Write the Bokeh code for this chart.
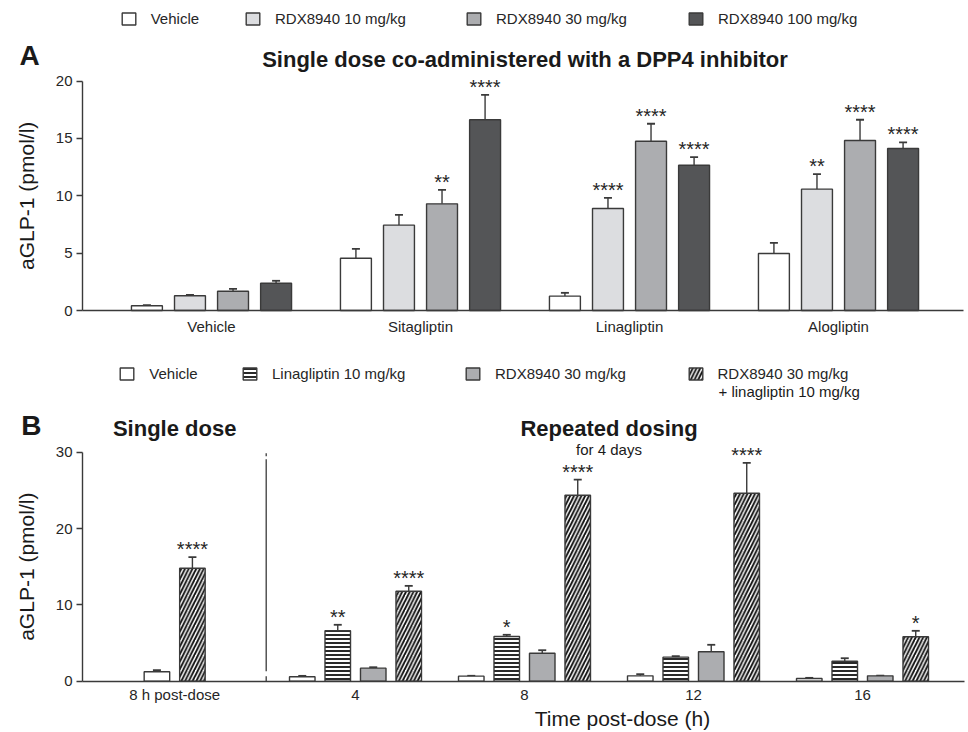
import math
from bokeh.plotting import figure
from bokeh.models import (ColumnDataSource, FixedTicker, CustomJSTickFormatter, Whisker,
                          TeeHead, Label, Legend, LegendItem, Range1d, LinearAxis)
from bokeh.layouts import column
from bokeh.embed import file_html
from bokeh.resources import INLINE
from bokeh.core.properties import value

# ---------------- data: panel A ----------------
A_groups = ["Vehicle", "Sitagliptin", "Linagliptin", "Alogliptin"]
A_series = ["Vehicle", "RDX8940 10 mg/kg", "RDX8940 30 mg/kg", "RDX8940 100 mg/kg"]
A_vehicle = [0.41, 4.56, 1.25, 4.97]
A_vehicle_sem = [0.05, 0.82, 0.29, 0.93]
A_rdx10 = [1.28, 7.44, 8.89, 10.58]
A_rdx10_sem = [0.09, 0.90, 0.93, 1.31]
A_rdx30 = [1.68, 9.30, 14.76, 14.82]
A_rdx30_sem = [0.21, 1.22, 1.52, 1.81]
A_rdx100 = [2.38, 16.63, 12.67, 14.12]
A_rdx100_sem = [0.21, 2.17, 0.70, 0.53]
A_vehicle_sig = ["", "", "", ""]
A_rdx10_sig = ["", "", "****", "**"]
A_rdx30_sig = ["", "**", "****", "****"]
A_rdx100_sig = ["", "****", "****", "****"]
A_yticks = [0, 5, 10, 15, 20]

# ---------------- data: panel B ----------------
B_groups = ["8 h post-dose", "4", "8", "12", "16"]
B_series = ["Vehicle", "Linagliptin 10 mg/kg", "RDX8940 30 mg/kg",
            "RDX8940 30 mg/kg + linagliptin 10 mg/kg"]
B_vehicle = [1.23, 0.58, 0.66, 0.70, 0.35]
B_vehicle_sem = [0.21, 0.12, 0.05, 0.22, 0.09]
B_lina = [None, 6.60, 5.86, 3.15, 2.62]
B_lina_sem = [None, 0.79, 0.22, 0.13, 0.39]
B_rdx = [None, 1.71, 3.67, 3.85, 0.70]
B_rdx_sem = [None, 0.12, 0.39, 0.92, 0.03]
B_combo = [14.80, 11.79, 24.37, 24.63, 5.82]
B_combo_sem = [1.45, 0.70, 2.05, 3.97, 0.78]
B_vehicle_sig = ["", "", "", "", ""]
B_lina_sig = ["", "**", "*", "", ""]
B_rdx_sig = ["", "", "", "", ""]
B_combo_sig = ["****", "****", "****", "****", "*"]
B_yticks = [0, 10, 20, 30]

# ---------------- layout / style constants ----------------
FONT = "Liberation Sans"
INK = "#262626"
EDGE = "#3a3a3a"
A_COLORS = ["#ffffff", "#dcdde0", "#acadb0", "#545557"]
GROUP_X_A = [0, 1, 2, 3]
GROUP_X_B = [-0.07, 1, 2, 3, 4]
A_PITCH, A_WIDTH = 0.206, 0.148
B_PITCH, B_WIDTH = 0.21, 0.151
W = 968


def make_fig(height, xr, yr, yaxis_x, xaxis_end, yticks, xticks, xlabels, xstand):
    p = figure(width=W, height=height, output_backend="svg", toolbar_location=None,
               x_range=Range1d(*xr), y_range=Range1d(*yr),
               x_axis_location=None, y_axis_location=None,
               min_border=0, min_border_left=0, min_border_right=0,
               min_border_top=0, min_border_bottom=0)
    p.xgrid.visible = False
    p.ygrid.visible = False
    p.outline_line_color = None
    p.background_fill_color = None
    p.border_fill_color = None

    ya = LinearAxis(fixed_location=yaxis_x, ticker=FixedTicker(ticks=yticks),
                    bounds=(yticks[0], yticks[-1]))
    xa = LinearAxis(fixed_location=0, ticker=FixedTicker(ticks=xticks),
                    bounds=(yaxis_x, xaxis_end),
                    formatter=CustomJSTickFormatter(args=dict(labels=xlabels),
                                                    code="return labels[index];"))
    for ax in (xa, ya):
        ax.axis_line_color = EDGE
        ax.axis_line_width = 1.4
        ax.major_label_text_font = FONT
        ax.major_label_text_font_size = "15px"
        ax.major_label_text_color = INK
        ax.minor_tick_line_color = None
    xa.major_tick_line_color = None
    xa.major_tick_out = 0
    xa.major_tick_in = 0
    xa.major_label_standoff = xstand
    ya.major_tick_out = 6
    ya.major_tick_in = 0
    ya.major_tick_line_color = EDGE
    ya.major_tick_line_width = 1.3
    ya.major_label_standoff = 4
    p.add_layout(ya, "left")
    p.add_layout(xa, "below")
    return p


def add_series(p, gx, vals, sems, sigs, k, present_fn, pitch, width, **fill):
    xs, tops, ups, stars = [], [], [], []
    for g, (v, s, st) in enumerate(zip(vals, sems, sigs)):
        if v is None:
            continue
        present = present_fn(g)
        n = len(present)
        j = present.index(k)
        xs.append(gx[g] + (j - (n - 1) / 2) * pitch)
        tops.append(v)
        ups.append(v + s)
        stars.append(st)
    src = ColumnDataSource(dict(x=xs, top=tops, up=ups, star=stars))
    r = p.vbar(x="x", top="top", bottom=0, width=width, source=src,
               line_color=EDGE, line_width=1.4, **fill)
    w = Whisker(source=src, base="x", lower="top", upper="up", dimension="height",
                line_color=EDGE, line_width=1.4, lower_head=None,
                upper_head=TeeHead(size=8, line_color=EDGE, line_width=1.8))
    p.add_layout(w)
    p.text(x="x", y="up", text="star", source=src, text_align="center",
           text_baseline="alphabetic", y_offset=-8, text_font=value(FONT),
           text_font_size="20px", text_color=INK)
    return r


def add_legend(p, r, label, x, y):
    lg = Legend(items=[LegendItem(label=label, renderers=[r])], location=(x, y),
                orientation="horizontal", padding=0, margin=0, spacing=0,
                border_line_color=None, background_fill_alpha=0,
                glyph_width=17, glyph_height=15, label_standoff=14, label_height=15,
                label_text_font=FONT, label_text_font_size="15px", label_text_color=INK)
    p.add_layout(lg, "center")


def add_text(p, x, y, txt, size, bold=False, align="center", angle=0.0,
             baseline="alphabetic", y_off=0):
    p.add_layout(Label(x=x, y=y, text=txt, text_font=FONT, text_font_size=f"{size}px",
                       text_font_style="bold" if bold else "normal", text_color="#1a1a1a",
                       text_align=align, text_baseline=baseline, angle=angle,
                       y_offset=y_off))


def header(p, x, y, txt, size, **kw):
    # compensate the renderer's baseline placement (text sits ~0.36 em low)
    add_text(p, x, y, txt, size, y_off=0.36 * size, **kw)


# ================= Panel A =================
# page mapping: y=0 at 310px, 11.47 px/unit; group 0 at 211px, 209 px/unit; figure spans 0..340
HA = 340
ax_ = lambda px: (px - 211) / 209
ay_ = lambda py: (310 - py) / 11.47
pA = make_fig(HA, (ax_(0), ax_(W)), (ay_(HA), ay_(0)), ax_(82), ax_(963),
              A_yticks, GROUP_X_A, A_groups, 7)

A_vals = [A_vehicle, A_rdx10, A_rdx30, A_rdx100]
A_sems = [A_vehicle_sem, A_rdx10_sem, A_rdx30_sem, A_rdx100_sem]
A_sigs = [A_vehicle_sig, A_rdx10_sig, A_rdx30_sig, A_rdx100_sig]
A_present = lambda g: [k for k in range(4) if A_vals[k][g] is not None]
A_leg_x = [119.7, 244, 465, 687]
for k in range(4):
    r = add_series(pA, GROUP_X_A, A_vals[k], A_sems[k], A_sigs[k], k, A_present,
                   A_PITCH, A_WIDTH, fill_color=A_COLORS[k])
    add_legend(pA, r, A_series[k], A_leg_x[k], HA - 26.7)

header(pA, ax_(19), ay_(65), "A", 28, bold=True, align="left")
header(pA, 1.5, ay_(66.7), "Single dose co-administered with a DPP4 inhibitor", 22, bold=True)
add_text(pA, ax_(26), 10, "aGLP-1 (pmol/l)", 21, angle=math.pi / 2, baseline="middle")

# ================= Panel B =================
# page mapping: y=0 at 680.7px, 7.633 px/unit; group "4" (x=1) at 355px, 169 px/unit; figure 340..732
HB = 392
TOPB = 340
bx_ = lambda px: 1 + (px - 355) / 169
by_ = lambda py: (680.7 - py) / 7.633
pB = make_fig(HB, (bx_(0), bx_(W)), (by_(TOPB + HB), by_(TOPB)), bx_(82), bx_(964),
              B_yticks, GROUP_X_B, B_groups, 5)

B_vals = [B_vehicle, B_lina, B_rdx, B_combo]
B_sems = [B_vehicle_sem, B_lina_sem, B_rdx_sem, B_combo_sem]
B_sigs = [B_vehicle_sig, B_lina_sig, B_rdx_sig, B_combo_sig]
B_present = lambda g: [k for k in range(4) if B_vals[k][g] is not None]
B_fills = [
    dict(fill_color="#ffffff"),
    dict(fill_color="#ffffff", hatch_pattern="horizontal_line", hatch_color="#111111",
         hatch_scale=4, hatch_weight=1.8),
    dict(fill_color="#acadb0"),
    dict(fill_color="#ffffff", hatch_pattern="right_diagonal_line", hatch_color="#111111",
         hatch_scale=7.5, hatch_weight=1.9),
]
B_leg_x = [118.3, 241, 464, 686.5]
for k in range(4):
    r = add_series(pB, GROUP_X_B, B_vals[k], B_sems[k], B_sigs[k], k, B_present,
                   B_PITCH, B_WIDTH, **B_fills[k])
    add_legend(pB, r, B_series[k].split(" + ")[0], B_leg_x[k], TOPB + HB - 382)

# divider between single and repeated dosing
pB.segment(x0=[bx_(265.7)], y0=[0], x1=[bx_(265.7)], y1=[30], line_color=EDGE,
           line_width=1.3, line_dash="5 5 212 3 3 60")

header(pB, bx_(718), by_(396.7), "+ " + B_series[3].split(" + ")[1], 15, align="left")
header(pB, bx_(20.7), by_(435), "B", 28, bold=True, align="left")
header(pB, GROUP_X_B[0], by_(436), "Single dose", 22, bold=True)
header(pB, 2.5, by_(436), "Repeated dosing", 22, bold=True)
header(pB, 2.5, by_(454), "for 4 days", 15)
header(pB, bx_(622), by_(726), "Time post-dose (h)", 21)
add_text(pB, bx_(26), 15, "aGLP-1 (pmol/l)", 21, angle=math.pi / 2, baseline="middle")

layout = column(pA, pB)
open("out.html", "w").write(file_html(layout, INLINE))
